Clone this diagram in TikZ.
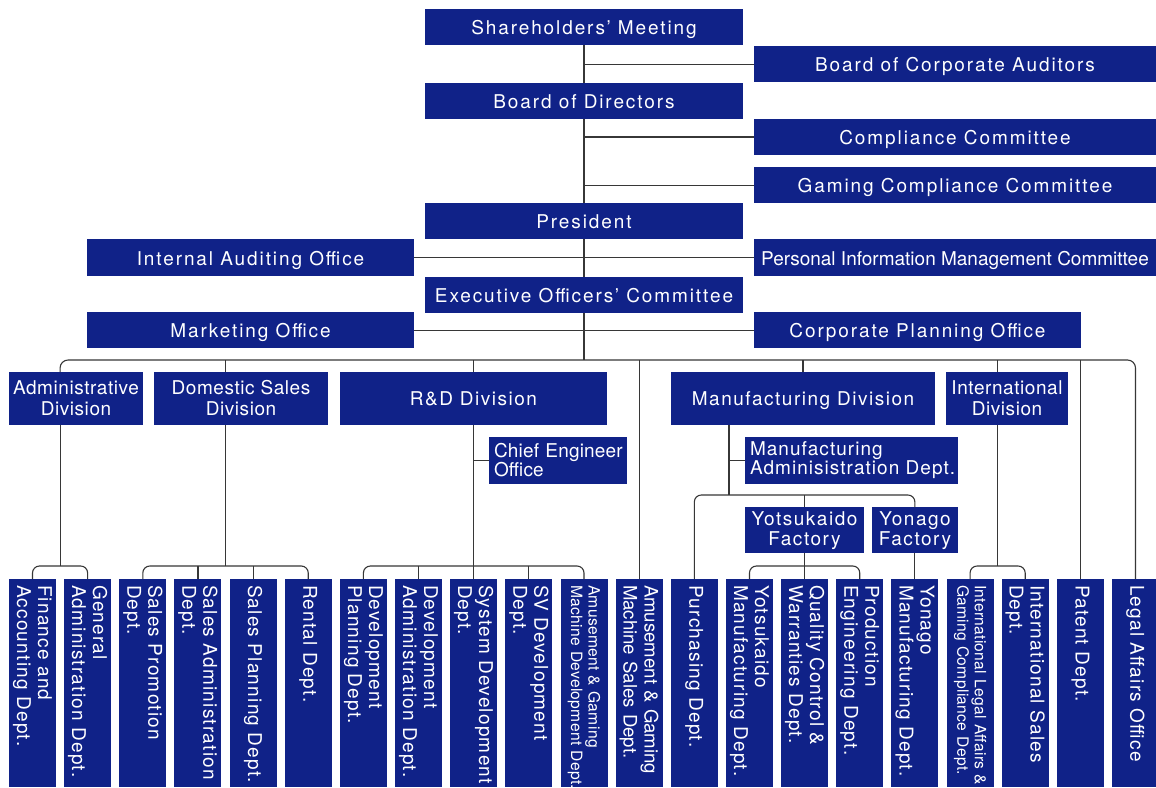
\documentclass[tikz,border=0pt]{standalone}
\usepackage{fontspec}
\setmainfont{TeX Gyre Heros}
\newfontfamily\ftop[LetterSpace=10]{TeX Gyre Heros}
\newfontfamily\fdiv[LetterSpace=8]{TeX Gyre Heros}
\newfontfamily\fmid[LetterSpace=3]{TeX Gyre Heros}
\newfontfamily\fsub[LetterSpace=5.5]{TeX Gyre Heros}
\newfontfamily\flow[LetterSpace=6.5]{TeX Gyre Heros}
\newfontfamily\fsmall[LetterSpace=2]{TeX Gyre Heros}
\newfontfamily\fplain[LetterSpace=1]{TeX Gyre Heros}
\newfontfamily\fzero{TeX Gyre Heros}
\usetikzlibrary{calc}
\definecolor{boxblue}{RGB}{16,34,136}
\definecolor{linegray}{RGB}{55,55,55}
\begin{document}
\begin{tikzpicture}[x=1pt,y=-1pt,
  blk/.style={fill=boxblue,text=white,inner sep=0pt,outer sep=0pt,anchor=center},
  sz/.style 2 args={minimum width=#1pt,minimum height=#2pt},
  topbox/.style={blk,text height=15.5pt,text depth=0pt,font=\ftop\fontsize{19}{21}\selectfont},
  plainbox/.style={blk,text height=15.5pt,text depth=0pt,font=\fzero\fontsize{19}{21}\selectfont},
  divbox/.style={blk,text height=13.7pt,text depth=0pt,font=\fdiv\fontsize{19}{21}\selectfont},
  divtwo/.style={blk,align=center,font=\fmid\fontsize{19}{21}\selectfont},
  subbox/.style={blk,align=left,inner xsep=5pt,font=\fsub\fontsize{19}{18.6}\selectfont},
  facbox/.style={blk,align=center,font=\fdiv\fontsize{19}{20}\selectfont},
  dept/.style={blk,rotate=-90,minimum height=47pt,text width=196pt,inner xsep=6pt,
    align=left,font=\flow\fontsize{19}{21}\selectfont},
  deptsmall/.style={dept,font=\fsmall\fontsize{15.6}{17.5}\selectfont},
  conn/.style={draw=linegray,line width=1.1pt},
  bus/.style={conn,rounded corners=7pt}
]
\fill[white] (0,0) rectangle (1156,787);
\useasboundingbox (0,0) rectangle (1156,787);

% top column
\node[topbox,sz={318}{36}] (sh) at (584,27) {Shareholders’ Meeting};
\node[topbox,sz={318}{36}] (bod) at (584,100.5) {Board of Directors};
\node[topbox,sz={318}{36}] (pres) at (584,221) {President};
\node[topbox,sz={318}{36}] (exec) at (584,295) {Executive Officers’ Committee};
% right column
\node[topbox,sz={402}{36.5}] (boca) at (955,64.2) {Board of Corporate Auditors};
\node[topbox,sz={402}{36.5}] (comp) at (955,137) {Compliance Committee};
\node[topbox,sz={402}{36.5}] (gcomp) at (955,185.2) {Gaming Compliance Committee};
\node[plainbox,sz={402}{36.5}] (pim) at (955,257.6) {Personal Information Management Committee};
\node[topbox,sz={327}{36.5}] (cpo) at (917.5,330.2) {Corporate Planning Office};
% left column
\node[topbox,sz={327}{36.5}] (iao) at (250.5,257.6) {Internal Auditing Office};
\node[topbox,sz={327}{36.5}] (mkt) at (250.5,330.2) {Marketing Office};

% divisions
\node[divtwo,sz={134}{53}] (adm) at (76,398.5) {Administrative\\Division};
\node[divtwo,sz={174}{53}] (dsd) at (241,398.5) {Domestic Sales\\Division};
\node[divbox,sz={267}{53}] (rnd) at (473.5,398.5) {R\&D Division};
\node[divbox,sz={264}{53}] (mfg) at (803,398.5) {Manufacturing Division};
\node[divtwo,sz={122}{53}] (intl) at (1007,398.5) {International\\Division};

% sub offices
\node[subbox,font=\fplain\fontsize{19}{18.6}\selectfont,text width=128pt,minimum height=46.5pt] (ceo) at (558,460.3) {\mbox{Chief Engineer}\\Office};
\node[subbox,text width=203pt,minimum height=46.5pt] (mad) at (851.5,460.3) {Manufacturing\\\mbox{Adminisistration Dept.}};
\node[facbox,sz={119}{46}] (ytf) at (804.5,530.3) {Yotsukaido\\Factory};
\node[facbox,sz={85.4}{46}] (ynf) at (915,530.3) {Yonago\\Factory};

% departments
\node[dept] (b0) at (32.5,683) {Finance and\\Accounting Dept.};
\node[dept] (b1) at (87.65,683) {General\\\mbox{Administration Dept.}};
\node[dept] (b2) at (142.8,683) {Sales Promotion\\Dept.};
\node[dept] (b3) at (197.95,683) {\mbox{Sales Administration}\\Dept.};
\node[dept] (b4) at (253.1,683) {Sales Planning Dept.};
\node[dept] (b5) at (308.25,683) {Rental Dept.};
\node[dept] (b6) at (363.4,683) {Development\\Planning Dept.};
\node[dept] (b7) at (418.55,683) {Development\\\mbox{Administration Dept.}};
\node[dept] (b8) at (473.7,683) {\mbox{System Development}\\Dept.};
\node[dept] (b9) at (528.85,683) {SV Development\\Dept.};
\node[deptsmall] (b10) at (584,683) {\mbox{Amusement \& Gaming}\\\mbox{Machine Development Dept.}};
\node[dept,font=\fzero\fontsize{18.6}{21}\selectfont] (b11) at (639.15,683) {\mbox{Amusement \& Gaming}\\\mbox{Machine Sales Dept.}};
\node[dept] (b12) at (694.3,683) {Purchasing Dept.};
\node[dept] (b13) at (749.45,683) {Yotsukaido\\\mbox{Manufacturing Dept.}};
\node[dept] (b14) at (804.6,683) {\mbox{Quality Control \&}\\\mbox{Warranties Dept.}};
\node[dept] (b15) at (859.75,683) {Production\\\mbox{Engineering Dept.}};
\node[dept] (b16) at (914.9,683) {Yonago\\\mbox{Manufacturing Dept.}};
\node[deptsmall] (b17) at (970.05,683) {\mbox{International Legal Affairs \&}\\\mbox{Gaming Compliance Dept.}};
\node[dept] (b18) at (1025.2,683) {\mbox{International Sales}\\Dept.};
\node[dept] (b19) at (1080.35,683) {Patent Dept.};
\node[dept] (b20) at (1135.5,683) {\mbox{Legal Affairs Office}};

% bus levels and trunk positions
\coordinate (topbus) at (0,360);
\coordinate (lowbus) at (0,566);
\coordinate (mbus) at (0,495);
\coordinate (ax) at ($(b0.west)!0.5!(b1.west)$);
\coordinate (dx) at ($(b2.west)!0.5!(b5.west)$);
\coordinate (ix) at ($(b17.west)!0.5!(b18.west)$);
\coordinate (mx) at (729,495);

% main trunk
\draw[conn] (sh.south) -- (bod.north);
\draw[conn] (bod.south) -- (pres.north);
\draw[conn] (pres.south) -- (exec.north);
\draw[conn] (exec.south) -- (exec.south |- topbus);
\draw[conn] (boca.west) -- (boca.west -| sh.south);
\draw[conn] (comp.west) -- (comp.west -| sh.south);
\draw[conn] (gcomp.west) -- (gcomp.west -| sh.south);
\draw[conn] (iao.east) -- (pim.west);
\draw[conn] (mkt.east) -- (cpo.west);

% top bus
\draw[conn,rounded corners=8pt] (adm.north -| ax) -- (ax |- topbus) -- (b20.west |- topbus) -- (b20.west);
\draw[conn] (dsd.north -| dx) -- (dx |- topbus);
\draw[conn] (rnd.north) -- (rnd.north |- topbus);
\draw[conn] (b11.west) -- (b11.west |- topbus);
\draw[conn] (mfg.north) -- (mfg.north |- topbus);
\draw[conn] (intl.north -| ix) -- (ix |- topbus);
\draw[conn] (b19.west) -- (b19.west |- topbus);

% administrative
\draw[conn] (adm.south -| ax) -- (ax |- lowbus);
\draw[bus] (b0.west) -- (b0.west |- lowbus) -- (b1.west |- lowbus) -- (b1.west);

% domestic sales
\draw[conn] (dsd.south -| dx) -- (dx |- lowbus);
\draw[bus] (b2.west) -- (b2.west |- lowbus) -- (b5.west |- lowbus) -- (b5.west);
\draw[conn] (b3.west) -- (b3.west |- lowbus);
\draw[conn] (b4.west) -- (b4.west |- lowbus);

% R&D
\draw[conn] (rnd.south -| b8.west) -- (b8.west);
\draw[conn] (ceo.west) -- (ceo.west -| b8.west);
\draw[bus] (b6.west) -- (b6.west |- lowbus) -- (b10.west |- lowbus) -- (b10.west);
\draw[conn] (b7.west) -- (b7.west |- lowbus);
\draw[conn] (b9.west) -- (b9.west |- lowbus);

% manufacturing
\draw[conn] (mfg.south -| mx) -- (mx);
\draw[conn] (mad.west) -- (mad.west -| mx);
\draw[bus] (b12.west) -- (b12.west |- mbus) -- (b16.west |- mbus) -- (ynf.north -| b16.west);
\draw[conn] (ytf.north -| b14.west) -- (b14.west |- mbus);
\draw[conn] (ynf.south -| b16.west) -- (b16.west);
\draw[conn] (ytf.south -| b14.west) -- (b14.west);
\draw[bus] (b13.west) -- (b13.west |- lowbus) -- (b15.west |- lowbus) -- (b15.west);

% international
\draw[conn] (intl.south -| ix) -- (ix |- lowbus);
\draw[bus] (b17.west) -- (b17.west |- lowbus) -- (b18.west |- lowbus) -- (b18.west);
\end{tikzpicture}
\end{document}
